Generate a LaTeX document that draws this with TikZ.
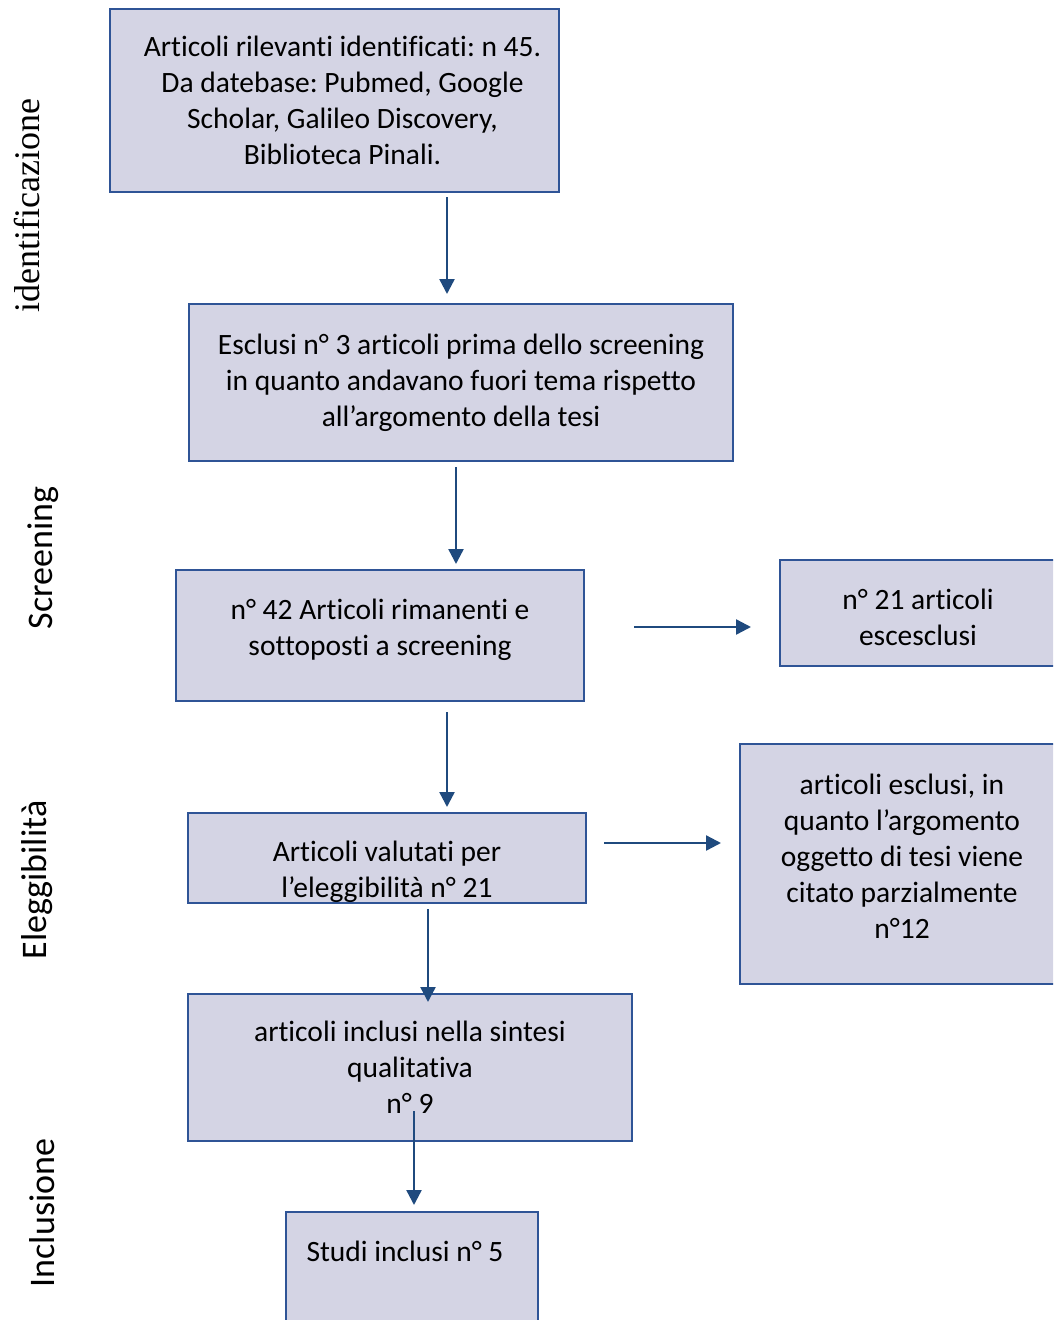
\documentclass[tikz,border=0pt]{standalone}
\usepackage{fontspec}
\setmainfont{Carlito}[Ligatures=NoCommon]
\newfontfamily\sidefont{Liberation Serif}
\usetikzlibrary{arrows.meta,positioning}
\definecolor{boxfill}{RGB}{212,212,228}
\definecolor{boxline}{RGB}{47,84,150}
\definecolor{arrline}{RGB}{31,74,126}
\frenchspacing

\begin{document}
\begin{tikzpicture}[x=1pt,y=1pt,
  box/.style={draw=boxline,fill=boxfill,line width=2pt,align=center,inner sep=0pt,
    font=\fontsize{29.5}{36}\selectfont},
  side/.style={rotate=90,font=\fontsize{36}{40}\selectfont},
  arr/.style={draw=arrline,line width=2.4pt,-{Triangle[length=15pt,width=15pt]}}]
\useasboundingbox (0,0) rectangle (1053,-1320);
\clip (0,0) rectangle (1053,-1320);
\node[box,minimum width=449,minimum height=183] (ident) at (334.5,-100.5)
  {\hspace*{16pt}Articoli rilevanti identificati: n 45.\\\hspace*{16pt}Da datebase: Pubmed, Google\\\hspace*{16pt}Scholar, Galileo Discovery,\\\hspace*{16pt}Biblioteca Pinali.};
\node[box,minimum width=544,minimum height=157] (escl) at (461,-382.5)
  {Esclusi n° 3 articoli prima dello screening\\in quanto andavano fuori tema rispetto\\all’argomento della tesi};
\node[box,minimum width=408,minimum height=131] (scr) at (380,-635.5)
  {n° 42 Articoli rimanenti e\\sottoposti a screening\rule[-16pt]{0pt}{0pt}};
\node[box,minimum width=276,minimum height=106] (scrout) at (918,-613)
  {\rule{0pt}{30pt}n° 21 articoli\\escesclusi};
\node[box,minimum width=398,minimum height=90] (elig) at (387,-858)
  {\rule{0pt}{48pt}Articoli valutati per\\l’eleggibilità n° 21};
\node[box,minimum width=324,minimum height=240] (eligout) at (902,-864)
  {articoli esclusi, in\\quanto l’argomento\\oggetto di tesi viene\\citato parzialmente\\n°12\rule[-16pt]{0pt}{0pt}};
\node[box,minimum width=444,minimum height=147] (sint) at (410,-1067.5)
  {articoli inclusi nella sintesi\\qualitativa\\n° 9};
\node[box,minimum width=252,minimum height=118] (stud) at (412,-1271) {};
\node[anchor=west,font=\fontsize{29.5}{36}\selectfont] (studtxt) at ([xshift=18pt,yshift=-40pt]stud.north west) {Studi inclusi n° 5};
\draw[arr,shorten <=4pt,shorten >=9pt] ([xshift=112.5pt]ident.south) -- ([xshift=-14pt]escl.north);
\draw[arr,shorten <=5pt,shorten >=5pt] ([xshift=-5pt]escl.south) -- ([xshift=76pt]scr.north);
\draw[arr,shorten <=49pt,shorten >=28pt] ([yshift=8.5pt]scr.east) -- ([yshift=-14pt]scrout.west);
\draw[arr,shorten <=10pt,shorten >=5pt] ([xshift=67pt]scr.south) -- ([xshift=60pt]elig.north);
\draw[arr,shorten <=17pt,shorten >=18pt] ([yshift=15pt]elig.east) -- ([yshift=21pt]eligout.west);
\draw[arr,shorten <=5pt,shorten >=-9pt] ([xshift=41pt]elig.south) -- ([xshift=18pt]sint.north);
\draw[arr,shorten <=-31pt,shorten >=6pt] ([xshift=4pt]sint.south) -- ([xshift=2pt]stud.north);
\node[side,font=\sidefont\fontsize{36}{40}\selectfont] (fase1) at (27,-206) {identificazione};
\node[side] (fase2) at (43,-558) {Screening};
\node[side] (fase3) at (37,-880) {Eleggibilità};
\node[side] (fase4) at (42,-1213) {Inclusione};
\end{tikzpicture}
\end{document}
